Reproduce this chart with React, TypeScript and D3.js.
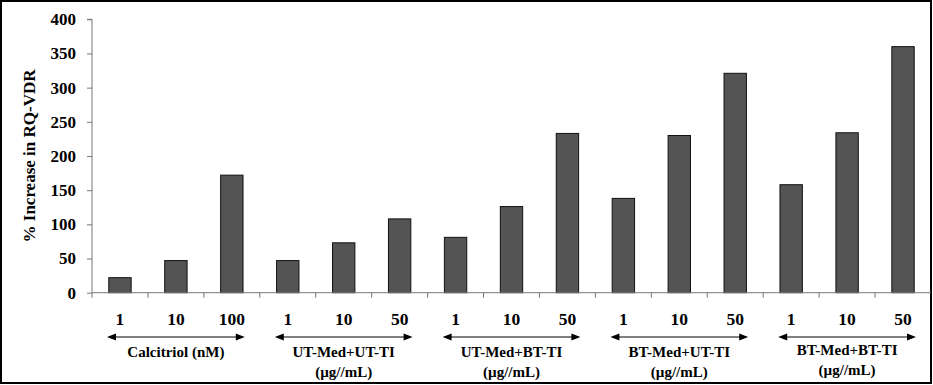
import { axisLeft, scaleBand, scaleLinear, select, range } from 'd3';
import { useEffect, useRef } from 'react';

// concentrations under each bar
const doses = ['1', '10', '100', '1', '10', '50', '1', '10', '50', '1', '10', '50', '1', '10', '50'];
// % increase in RQ-VDR
const values = [22, 47, 172, 47, 73, 108, 81, 126, 233, 138, 230, 321, 158, 234, 360];
// treatment groups, three bars each
const groupNames = ['Calcitriol (nM)', 'UT-Med+UT-TI', 'UT-Med+BT-TI', 'BT-Med+UT-TI', 'BT-Med+BT-TI'];
const groupUnits = ['', '(µg//mL)', '(µg//mL)', '(µg//mL)', '(µg//mL)'];
const yTicks = [0, 50, 100, 150, 200, 250, 300, 350, 400];

const WIDTH = 933;
const HEIGHT = 385;
const FONT = '"Liberation Serif", "Times New Roman", serif';

const App = () => {
  const svgElem = useRef<SVGSVGElement>(null);

  useEffect(() => {
    if (!svgElem.current) {
      return;
    }
    const svg = select(svgElem.current);
    svg.selectAll('*').remove();

    // plot area edges
    const MARGINS = { left: 92, right: 931, top: 19.3, bottom: 292.7 };

    const x = scaleBand<number>()
      .domain(range(values.length))
      .range([MARGINS.left, MARGINS.right])
      .paddingInner(0.6)
      .paddingOuter(0.3);
    const y = scaleLinear().domain([0, 400]).range([MARGINS.bottom, MARGINS.top]);
    const step = x.step();
    const edge = (i: number) => MARGINS.left + i * step;

    // outer frame
    svg
      .append('rect')
      .attr('x', 1)
      .attr('y', 1)
      .attr('width', 930)
      .attr('height', 382)
      .attr('fill', 'white')
      .attr('stroke', 'black')
      .attr('stroke-width', 2);

    // bars
    svg
      .append('g')
      .selectAll('rect')
      .data(values)
      .join('rect')
      .attr('x', (_, i) => x(i)!)
      .attr('y', (d) => y(d))
      .attr('width', x.bandwidth())
      .attr('height', (d) => y(0) - y(d))
      .attr('fill', '#545454')
      .attr('stroke', '#111')
      .attr('stroke-width', 1);

    // y axis
    const yAxis = axisLeft(y).tickValues(yTicks).tickSize(5).tickPadding(11);
    const yg = svg
      .append('g')
      .attr('transform', `translate(${MARGINS.left}, 0)`)
      // @ts-expect-error: d3 typings
      .call(yAxis);
    yg.selectAll('path, line').attr('stroke', '#777');
    yg.select('.domain').attr('d', `M-5,${y(400)}H0V${y(0)}`);
    yg.selectAll('text')
      .attr('fill', 'black')
      .style('font-family', FONT)
      .style('font-weight', 'bold')
      .style('font-size', '17px');

    // x axis line and tick marks between categories
    svg
      .append('line')
      .attr('x1', MARGINS.left)
      .attr('x2', MARGINS.right)
      .attr('y1', y(0))
      .attr('y2', y(0))
      .attr('stroke', '#777');
    svg
      .append('g')
      .selectAll('line')
      .data(range(values.length))
      .join('line')
      .attr('x1', (i) => edge(i))
      .attr('x2', (i) => edge(i))
      .attr('y1', y(0))
      .attr('y2', y(0) + 5)
      .attr('stroke', '#777');

    // dose labels
    svg
      .append('g')
      .selectAll('text')
      .data(doses)
      .join('text')
      .attr('x', (_, i) => x(i)! + x.bandwidth() / 2)
      .attr('y', 325)
      .attr('text-anchor', 'middle')
      .style('font-family', FONT)
      .style('font-weight', 'bold')
      .style('font-size', '17.5px')
      .text((d) => d);

    // group arrows and labels
    const groups = svg.append('g').selectAll('g').data(groupNames).join('g');
    const arrowY = 337;
    groups
      .append('line')
      .attr('x1', (_, g) => edge(g * 3) + 18)
      .attr('x2', (_, g) => edge(g * 3 + 3) - 18)
      .attr('y1', arrowY)
      .attr('y2', arrowY)
      .attr('stroke', 'black')
      .attr('stroke-width', 1.2);
    groups
      .append('path')
      .attr('d', (_, g) => {
        const a = edge(g * 3) + 15;
        const b = edge(g * 3 + 3) - 15;
        return (
          `M${a},${arrowY}L${a + 9},${arrowY - 3.5}L${a + 9},${arrowY + 3.5}Z` +
          `M${b},${arrowY}L${b - 9},${arrowY - 3.5}L${b - 9},${arrowY + 3.5}Z`
        );
      })
      .attr('fill', 'black');
    groups
      .append('text')
      .attr('x', (_, g) => edge(g * 3) + step * 1.5)
      .attr('y', (_, g) => (g === 4 ? 355 : 357))
      .attr('text-anchor', 'middle')
      .style('font-family', FONT)
      .style('font-weight', 'bold')
      .style('font-size', '15px')
      .text((d) => d);
    groups
      .append('text')
      .attr('x', (_, g) => edge(g * 3) + step * 1.5)
      .attr('y', (_, g) => (g === 4 ? 375 : 377))
      .attr('text-anchor', 'middle')
      .style('font-family', FONT)
      .style('font-weight', 'bold')
      .style('font-size', '15px')
      .text((_, g) => groupUnits[g]);

    // y-axis title
    svg
      .append('text')
      .attr('transform', `translate(35, ${(MARGINS.top + MARGINS.bottom) / 2}) rotate(-90)`)
      .attr('text-anchor', 'middle')
      .style('font-family', FONT)
      .style('font-weight', 'bold')
      .style('font-size', '17px')
      .text('% Increase in RQ-VDR');
  }, [svgElem]);

  return (
    <svg
      ref={svgElem}
      width={WIDTH}
      height={HEIGHT}
      style={{ position: 'absolute', left: 0, top: 0, display: 'block' }}
    />
  );
};

export default App;
